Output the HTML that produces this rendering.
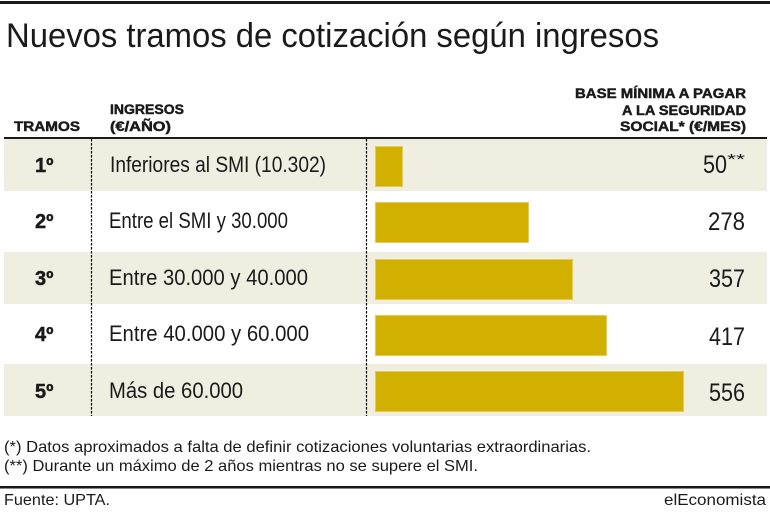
<!DOCTYPE html>
<html>
<head>
<meta charset="utf-8">
<style>
  html, body { margin: 0; padding: 0; background: #ffffff; }
  body { width: 770px; height: 513px; overflow: hidden; }
  svg { display: block; }
  .t { font-family: "Liberation Sans", "DejaVu Sans", sans-serif; fill: #1a1a1a; }
  .b { font-weight: bold; }
  .h { font-weight: bold; stroke: #1a1a1a; stroke-width: 0.45; }
</style>
</head>
<body>
<svg width="770" height="513" viewBox="0 0 770 513" xmlns="http://www.w3.org/2000/svg">
  <!-- top rule -->
  <rect x="0" y="1" width="770" height="3" fill="#1a1a1a"/>

  <!-- title -->
  <text class="t" x="6" y="47" font-size="34" textLength="653" lengthAdjust="spacingAndGlyphs">Nuevos tramos de cotización según ingresos</text>

  <!-- headers -->
  <text class="t h" x="14" y="131" font-size="13.5" textLength="66" lengthAdjust="spacingAndGlyphs">TRAMOS</text>
  <text class="t h" x="110" y="114" font-size="13.5" textLength="74" lengthAdjust="spacingAndGlyphs">INGRESOS</text>
  <text class="t h" x="110" y="131" font-size="13.5" textLength="61" lengthAdjust="spacingAndGlyphs">(€/AÑO)</text>
  <text class="t h" x="575" y="98" font-size="13.5" textLength="171" lengthAdjust="spacingAndGlyphs">BASE MÍNIMA A PAGAR</text>
  <text class="t h" x="622" y="115" font-size="13.5" textLength="124" lengthAdjust="spacingAndGlyphs">A LA SEGURIDAD</text>
  <text class="t h" x="620" y="131" font-size="13.5" textLength="126" lengthAdjust="spacingAndGlyphs">SOCIAL* (€/MES)</text>

  <!-- header rule -->
  <rect x="4" y="137" width="763" height="2" fill="#1a1a1a"/>

  <!-- row backgrounds -->
  <rect x="4" y="139" width="763" height="52" fill="#f0eee1"/>
  <rect x="4" y="252" width="763" height="52" fill="#f0eee1"/>
  <rect x="4" y="364" width="763" height="52" fill="#f0eee1"/>

  <!-- dotted separators -->
  <line x1="91.5" y1="139" x2="91.5" y2="416" stroke="#000" stroke-width="1.2" stroke-dasharray="2.5,1.5"/>
  <line x1="366.5" y1="139" x2="366.5" y2="416" stroke="#000" stroke-width="1.2" stroke-dasharray="2.5,1.5"/>

  <!-- bars -->
  <g fill="#d1b000" stroke="#e3cc55" stroke-width="1">
    <rect x="375.5" y="146.5" width="27" height="40"/>
    <rect x="375.5" y="202.5" width="153" height="40"/>
    <rect x="375.5" y="259.5" width="197" height="40"/>
    <rect x="375.5" y="315.5" width="231" height="40"/>
    <rect x="375.5" y="371.5" width="308" height="40"/>
  </g>

  <!-- ordinals -->
  <g class="t h" font-size="20">
    <text x="35" y="172">1º</text>
    <text x="35" y="228">2º</text>
    <text x="35" y="285">3º</text>
    <text x="35" y="341">4º</text>
    <text x="35" y="398">5º</text>
  </g>

  <!-- row labels -->
  <g class="t" font-size="22">
    <text x="110" y="172" textLength="216" lengthAdjust="spacingAndGlyphs">Inferiores al SMI  (10.302)</text>
    <text x="109" y="228" textLength="179" lengthAdjust="spacingAndGlyphs">Entre el SMI y 30.000</text>
    <text x="109" y="285" textLength="199" lengthAdjust="spacingAndGlyphs">Entre 30.000 y 40.000</text>
    <text x="109" y="341" textLength="200" lengthAdjust="spacingAndGlyphs">Entre 40.000 y 60.000</text>
    <text x="109" y="398" textLength="134" lengthAdjust="spacingAndGlyphs">Más de 60.000</text>
  </g>

  <!-- values -->
  <g class="t" font-size="25" fill="#222">
    <text x="703" y="173" textLength="24" lengthAdjust="spacingAndGlyphs">50</text>
    <text x="727" y="164" font-size="15" textLength="18" lengthAdjust="spacingAndGlyphs">**</text>
    <text x="708" y="230" textLength="37" lengthAdjust="spacingAndGlyphs">278</text>
    <text x="709" y="287" textLength="36" lengthAdjust="spacingAndGlyphs">357</text>
    <text x="709" y="345" textLength="36" lengthAdjust="spacingAndGlyphs">417</text>
    <text x="709" y="401" textLength="36" lengthAdjust="spacingAndGlyphs">556</text>
  </g>

  <!-- footnotes -->
  <g class="t" font-size="16">
    <text x="4" y="452" textLength="587" lengthAdjust="spacingAndGlyphs">(*) Datos aproximados a falta de definir cotizaciones voluntarias extraordinarias.</text>
    <text x="4" y="471" textLength="474" lengthAdjust="spacingAndGlyphs">(**) Durante un máximo de 2 años mientras no se supere el SMI.</text>
  </g>

  <!-- bottom rule -->
  <rect x="0" y="486" width="770" height="2" fill="#1a1a1a"/>
  <rect x="0" y="488" width="770" height="1" fill="#888"/>

  <!-- source -->
  <g class="t" font-size="16">
    <text x="4" y="505" textLength="106" lengthAdjust="spacingAndGlyphs">Fuente: UPTA.</text>
    <text x="664" y="505" textLength="102" lengthAdjust="spacingAndGlyphs">elEconomista</text>
  </g>
</svg>
</body>
</html>
